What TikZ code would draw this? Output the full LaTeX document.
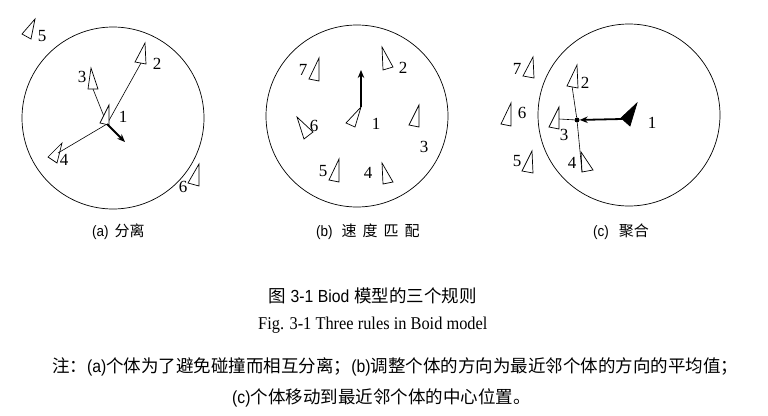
\documentclass[tikz,border=0pt]{standalone}
\usepackage{fontspec}
\setmainfont{Liberation Serif}
\newfontfamily\cjk{Noto Sans CJK SC}
\newfontfamily\nsans[FakeStretch=0.9]{Liberation Sans}
\newfontfamily\tserif[FakeStretch=0.91]{Liberation Serif}
\usetikzlibrary{arrows.meta}
\begin{document}
\begin{tikzpicture}[x=1pt,y=-1pt,
  boid/.style={draw,line width=0.7pt,fill=white,line join=miter},
  ring/.style={circle,draw,line width=0.7pt,minimum size=182pt,inner sep=0pt},
  link/.style={line width=0.6pt},
  move/.style={line width=1.8pt,-{Stealth[length=8pt,width=6.5pt]}},
  num/.style={font=\fontsize{17}{17}\selectfont,inner sep=0pt},
  captext/.style={font=\fontsize{15}{15}\selectfont,inner sep=0pt,anchor=base west},
  centerdot/.style={circle,fill=black,inner sep=0pt,minimum size=5pt}
]
\useasboundingbox (0,0) rectangle (768,415);

% ---------------- panel (a) ----------------
\node[ring] (ca) at (113,118) {};
\draw[boid] (35,19) -- (22,34) -- (31,39) -- cycle;
\node[num] (a5) at (42,36) {5};
\draw[boid] (145,43) -- (135,62) -- (146,64) -- cycle;
\node[num] (a2) at (157,64) {2};
\draw[boid] (91,68) -- (88,89) -- (98,89) -- cycle;
\node[num] (a3) at (82,77) {3};
\draw[boid] (62,143) -- (48,157) -- (57,163) -- cycle;
\node[num] (a4) at (64,160) {4};
\draw[boid] (199,164) -- (188,183) -- (199,186) -- cycle;
\node[num] (a6) at (183,187) {6};
\coordinate (pa1) at (107,124);
\coordinate (pa2) at (141,63);
\coordinate (pa3) at (93,89);
\coordinate (pa4) at (58,153);
\coordinate (pam) at (125,142);
\draw[link] (pa1) -- (pa2);
\draw[link] (pa1) -- (pa3);
\draw[link] (pa1) -- (pa4);
\draw[boid] (109,105) -- (100,123) -- (109,125) -- cycle;
\node[num] (a1) at (123,117) {1};
\draw[move] (pa1) -- (pam);

% ---------------- panel (b) ----------------
\node[ring] (cb) at (357,116) {};
\draw[boid] (319,58) -- (309,79) -- (319,81) -- cycle;
\node[num] (b7) at (303,70) {7};
\draw[boid] (382,47) -- (383,70) -- (393,67) -- cycle;
\node[num] (b2) at (403,68) {2};
\draw[boid] (297,117) -- (304,139) -- (313,132) -- cycle;
\node[num] (b6) at (314,126) {6};
\draw[boid] (419,105) -- (409,125) -- (419,127) -- cycle;
\node[num] (b3) at (424,147) {3};
\draw[boid] (339,159) -- (329,180) -- (339,182) -- cycle;
\node[num] (b5) at (323,171) {5};
\draw[boid] (382,163) -- (383,184) -- (393,182) -- cycle;
\node[num] (b4) at (368,173) {4};
\draw[boid] (361,107) -- (346,123) -- (355,127) -- cycle;
\node[num] (b1) at (376,124) {1};
\coordinate (pb1) at (361,107);
\coordinate (pbm) at (361,70);
\draw[move] (pb1) -- (pbm);

% ---------------- panel (c) ----------------
\node[ring] (cc) at (629,115) {};
\draw[boid] (533,57) -- (523,76) -- (534,78) -- cycle;
\node[num] (c7) at (517,69) {7};
\draw[boid] (511,103) -- (501,124) -- (511,126) -- cycle;
\node[num] (c6) at (522,113) {6};
\draw[boid] (532,151) -- (522,171) -- (533,173) -- cycle;
\node[num] (c5) at (517,161) {5};
\coordinate (pc2) at (572,86);
\coordinate (pc3) at (559,119);
\coordinate (pc4) at (582,172);
\node[centerdot] (cm) at (577,120) {};
\draw[link] (pc2) -- (cm) -- (pc4);
\draw[link] (pc3) -- (cm);
\draw[boid] (577,65) -- (567,86) -- (578,88) -- cycle;
\node[num] (c2) at (585,83) {2};
\draw[boid] (559,107) -- (549,127) -- (559,129) -- cycle;
\node[num] (c3) at (564,135) {3};
\draw[boid,fill=none] (581,152) -- (582,172) -- (593,170) -- cycle;
\node[num] (c4) at (572,163) {4};
\draw[boid,fill=black] (637,103) -- (621,118) -- (630,126) -- cycle;
\node[num] (c1) at (652,123) {1};
\coordinate (pc1) at (622,119);
\draw[move] (pc1) -- (cm);

% ---------------- captions ----------------
\node[captext] (capa) at (92,236) {\nsans(a)\hspace{6pt}\cjk 分离};
\node[captext] (capb) at (316,236) {\nsans(b)\hspace{9pt}\cjk 速\hspace{6pt}度\hspace{6pt}匹\hspace{6pt}配};
\node[captext] (capc) at (593,236) {\nsans(c)\hspace{10pt}\cjk 聚合};
\node[captext,font=\fontsize{17.5}{17.5}\selectfont] (title) at (268,302) {\cjk 图\hspace{5pt}\nsans 3-1 Biod\hspace{5pt}\cjk 模型的三个规则};
\node[captext,font=\fontsize{18}{18}\selectfont] (fig) at (258,329) {\tserif Fig. 3-1 Three rules in Boid model};
\node[captext,font=\fontsize{17.5}{17.5}\selectfont] (note1) at (52,372) {\cjk 注：\nsans(a)\cjk 个体为了避免碰撞而相互分离；\nsans(b)\cjk 调整个体的方向为最近邻个体的方向的平均值；};
\node[captext,font=\fontsize{17.5}{17.5}\selectfont] (note2) at (232,403) {\nsans(c)\cjk 个体移动到最近邻个体的中心位置。};
\end{tikzpicture}
\end{document}
